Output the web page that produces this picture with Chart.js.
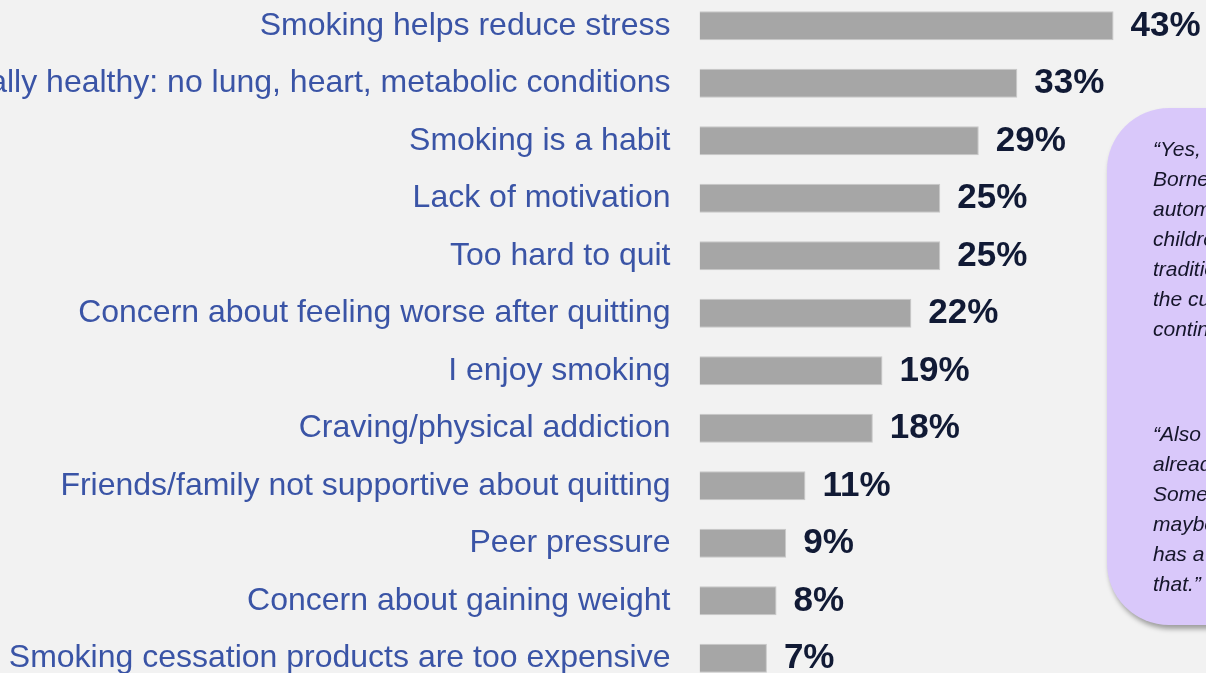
<!DOCTYPE html>
<html>
<head>
    <title>Reasons for not quitting smoking</title>
    <script src="https://cdn.jsdelivr.net/npm/chart.js"></script>
    <style>
        body { margin: 0; background: #f2f2f2; overflow: hidden; width: 1206px; height: 673px; position: relative; }
        #wrap { position: absolute; left: 0; top: -3px; width: 1206px; height: 690px; }
        #quote {
            position: absolute; left: 1107px; top: 108px; width: 240px; height: 517px;
            background: #d9c8fa; border-radius: 62px;
            box-shadow: 2px 4px 5px rgba(0, 0, 0, 0.35);
            font: italic 21px "Liberation Sans", Arial, sans-serif; color: #15152a;
            line-height: 30px; white-space: nowrap; padding: 26px 0 0 46px; box-sizing: border-box;
            overflow: hidden;
        }
        #quote p { margin: 0; }
        #quote p + p { margin-top: 75px; }
    </style>
</head>
<body>
    <div id="wrap"><canvas id="reasonsChart"></canvas></div>
    <div id="quote">
        <p>“Yes, in<br>Borneo<br>automatically<br>children<br>tradition<br>the culture<br>continue</p>
        <p>“Also<br>already<br>Sometimes<br>maybe<br>has a<br>that.”</p>
    </div>
    <script>
        var reasons = [
            'Smoking helps reduce stress',
            'Generally healthy: no lung, heart, metabolic conditions',
            'Smoking is a habit',
            'Lack of motivation',
            'Too hard to quit',
            'Concern about feeling worse after quitting',
            'I enjoy smoking',
            'Craving/physical addiction',
            'Friends/family not supportive about quitting',
            'Peer pressure',
            'Concern about gaining weight',
            'Smoking cessation products are too expensive'
        ];
        var percents = [43, 33, 29, 25, 25, 22, 19, 18, 11, 9, 8, 7];

        // percent labels to the right of each bar
        var valueLabels = {
            id: 'valueLabels',
            afterDatasetsDraw: function(chart) {
                var ctx = chart.ctx;
                var meta = chart.getDatasetMeta(0);
                ctx.save();
                ctx.font = 'bold 35px "Liberation Sans", Arial, sans-serif';
                ctx.fillStyle = '#111a35';
                ctx.textAlign = 'left';
                ctx.textBaseline = 'alphabetic';
                meta.data.forEach(function(bar, i) {
                    ctx.fillText(percents[i] + '%', bar.x + 17, bar.y + 10);
                });
                ctx.restore();
            }
        };

        var ctx = document.getElementById('reasonsChart').getContext('2d');
        new Chart(ctx, {
            type: 'bar',
            data: {
                labels: reasons,
                datasets: [{
                    data: percents,
                    backgroundColor: '#a6a6a6',
                    borderColor: '#c8c8c8',
                    borderWidth: 1,
                    barPercentage: 0.505,
                    categoryPercentage: 1
                }]
            },
            options: {
                indexAxis: 'y',
                responsive: true,
                maintainAspectRatio: false,
                animation: false,
                layout: { padding: 0 },
                plugins: {
                    legend: { display: false },
                    tooltip: { enabled: false }
                },
                scales: {
                    x: {
                        display: false,
                        min: 0,
                        max: 52.6
                    },
                    y: {
                        grid: { display: false, drawTicks: false },
                        border: { display: false },
                        ticks: {
                            color: '#3a54a6',
                            padding: 29,
                            font: { family: '"Liberation Sans", Arial, sans-serif', size: 32 }
                        },
                        afterFit: function(scale) {
                            scale.width = 699.5;
                            scale.paddingTop = 0;
                            scale.paddingBottom = 0;
                        }
                    }
                }
            },
            plugins: [valueLabels]
        });
    </script>
</body>
</html>
